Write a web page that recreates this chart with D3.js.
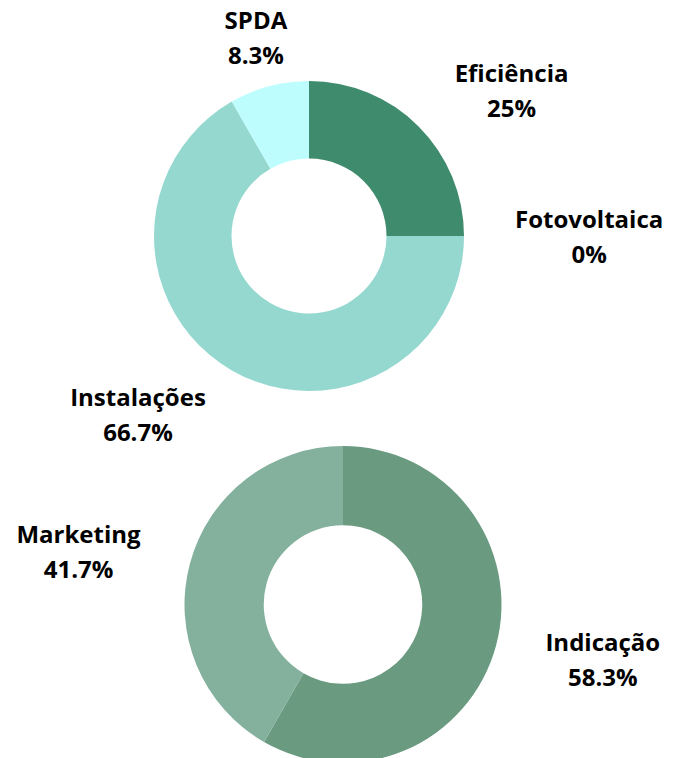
<!DOCTYPE html>
<html>
<head>
<meta charset="utf-8">
<script src="https://cdn.jsdelivr.net/npm/d3@7"></script>
<style>
  body { margin: 0; background: #fff; }
  text { font-family: "Open Sans", sans-serif; font-weight: bold; font-size: 24px; fill: #000; }
</style>
</head>
<body>
<svg id="chart"></svg>
<script>
var w = 682;
var h = 758;

// top donut
var top_names = ["Eficiência", "Fotovoltaica", "Instalações", "SPDA"];
var top_values = [25, 0, 66.7, 8.3];
var top_colors = ["#3f8b6d", "#3f8b6d", "#94d8d0", "#bdfdfe"];

// bottom donut
var bottom_names = ["Indicação", "Marketing"];
var bottom_values = [58.3, 41.7];
var bottom_colors = ["#6a9a80", "#84b09e"];

var svg = d3.select("#chart").attr("width", w).attr("height", h);

function drawDonut(names, values, colors, cx, cy, r)
{
    var data = names.map(function(n, i){ return {name: n, value: values[i], color: colors[i]}; });
    var pie = d3.pie().sort(null).value(function(d){ return d.value; });
    var arc = d3.arc().innerRadius(r * 0.5).outerRadius(r);
    var g = svg.append("g").attr("transform", "translate(" + cx + "," + cy + ")");

    g.selectAll("path")
        .data(pie(data))
        .enter().append("path")
        .attr("d", arc)
        .attr("fill", function(d){ return d.data.color; });

    var labelR = r + 51;
    pie(data).forEach(function(d){
        var a = (d.startAngle + d.endAngle) / 2;
        var x = labelR * Math.sin(a);
        var y = -labelR * Math.cos(a);
        var lab = g.append("g");
        var t1 = lab.append("text").attr("y", y - 8).text(d.data.name);
        var t2 = lab.append("text").attr("y", y + 27).text(d3.format("~")(d.data.value) + "%");
        var bw = Math.max(t1.node().getComputedTextLength(), t2.node().getComputedTextLength());
        // block center: left aligned on right side, right aligned on left side, centered near top
        var s = Math.sin(a);
        var mid;
        if (Math.abs(s) < 0.3) mid = x;
        else if (s > 0) mid = x + bw / 2;
        else mid = x - bw / 2;
        t1.attr("x", mid).attr("text-anchor", "middle");
        t2.attr("x", mid).attr("text-anchor", "middle");
    });
}

drawDonut(top_names, top_values, top_colors, 309, 236, 155);
drawDonut(bottom_names, bottom_values, bottom_colors, 343, 604.5, 158.5);
</script>
</body>
</html>
